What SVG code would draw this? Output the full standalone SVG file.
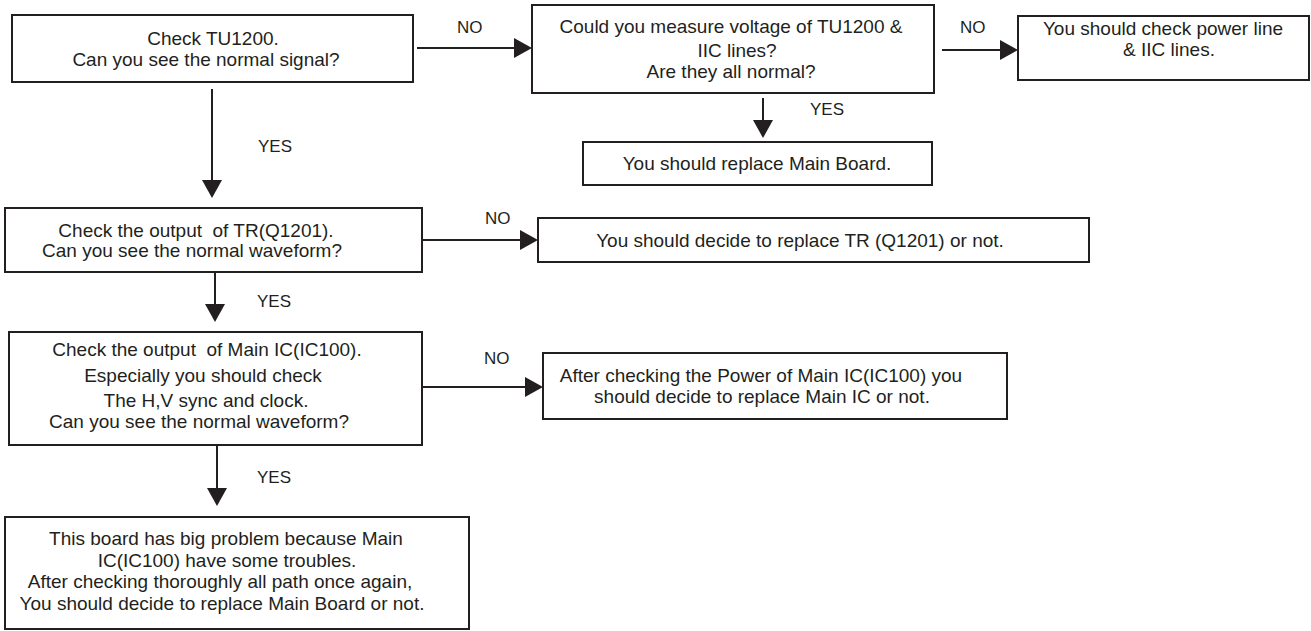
<svg xmlns="http://www.w3.org/2000/svg" width="1311" height="631" viewBox="0 0 1311 631">
<style>
.box{fill:#fff;stroke:#231f20;stroke-width:2}
.t{font-family:"Liberation Sans",Arial,sans-serif;font-size:19px;fill:#231f20;text-anchor:middle;white-space:pre}
.lb{font-family:"Liberation Sans",Arial,sans-serif;font-size:17px;fill:#231f20}
.c{stroke:#231f20;stroke-width:2;fill:none;marker-end:url(#ah)}
</style>
<defs>
<marker id="ah" viewBox="0 0 18 20" markerWidth="18" markerHeight="20" refX="12" refY="10" orient="auto" markerUnits="userSpaceOnUse">
<path d="M0,0 L18,10 L0,20 z" fill="#231f20"/>
</marker>
</defs>
<rect width="1311" height="631" fill="#fff"/>
<g id="connectors">
<line class="c" x1="417" y1="48" x2="526" y2="48"/>
<line class="c" x1="942" y1="50" x2="1012" y2="50"/>
<line class="c" x1="763" y1="98" x2="763" y2="132"/>
<line class="c" x1="212" y1="89" x2="212" y2="192"/>
<line class="c" x1="423" y1="240" x2="532" y2="240"/>
<line class="c" x1="215" y1="272" x2="215" y2="316"/>
<line class="c" x1="423" y1="387" x2="537" y2="387"/>
<line class="c" x1="217" y1="445" x2="217" y2="500"/>
<text class="lb" x="457" y="33">NO</text>
<text class="lb" x="960" y="33">NO</text>
<text class="lb" x="810" y="115">YES</text>
<text class="lb" x="258" y="152">YES</text>
<text class="lb" x="485" y="224">NO</text>
<text class="lb" x="257" y="307">YES</text>
<text class="lb" x="484" y="364">NO</text>
<text class="lb" x="257" y="483">YES</text>
</g>
<g id="n1">
<rect class="box" x="12" y="15" width="401" height="67"/>
<text class="t" x="213" y="45">Check TU1200.</text>
<text class="t" x="206" y="66">Can you see the normal signal?</text>
</g>
<g id="n2">
<rect class="box" x="532" y="5" width="402" height="88"/>
<text class="t" x="731" y="33">Could you measure voltage of TU1200 &amp;</text>
<text class="t" x="737" y="57">IIC lines?</text>
<text class="t" x="731" y="78">Are they all normal?</text>
</g>
<g id="n3">
<rect class="box" x="1018" y="16" width="291" height="64"/>
<text class="t" x="1163" y="35">You should check power line</text>
<text class="t" x="1169" y="56">&amp; IIC lines.</text>
</g>
<g id="n4">
<rect class="box" x="583" y="142" width="349" height="43"/>
<text class="t" x="757" y="170">You should replace Main Board.</text>
</g>
<g id="n5">
<rect class="box" x="5" y="208" width="417" height="64"/>
<text class="t" x="196" y="237">Check the output  of TR(Q1201).</text>
<text class="t" x="192" y="257">Can you see the normal waveform?</text>
</g>
<g id="n6">
<rect class="box" x="538" y="218" width="551" height="44"/>
<text class="t" x="800" y="247">You should decide to replace TR (Q1201) or not.</text>
</g>
<g id="n7">
<rect class="box" x="9" y="332" width="413" height="113"/>
<text class="t" x="207" y="356">Check the output  of Main IC(IC100).</text>
<text class="t" x="203" y="382">Especially you should check</text>
<text class="t" x="206" y="407">The H,V sync and clock.</text>
<text class="t" x="199" y="428">Can you see the normal waveform?</text>
</g>
<g id="n8">
<rect class="box" x="543" y="353" width="464" height="66"/>
<text class="t" x="761" y="382">After checking the Power of Main IC(IC100) you</text>
<text class="t" x="762" y="403">should decide to replace Main IC or not.</text>
</g>
<g id="n9">
<rect class="box" x="5" y="517" width="464" height="112"/>
<text class="t" x="226" y="545">This board has big problem because Main</text>
<text class="t" x="227" y="567">IC(IC100) have some troubles.</text>
<text class="t" x="220" y="588">After checking thoroughly all path once again,</text>
<text class="t" x="222" y="610">You should decide to replace Main Board or not.</text>
</g>
</svg>
